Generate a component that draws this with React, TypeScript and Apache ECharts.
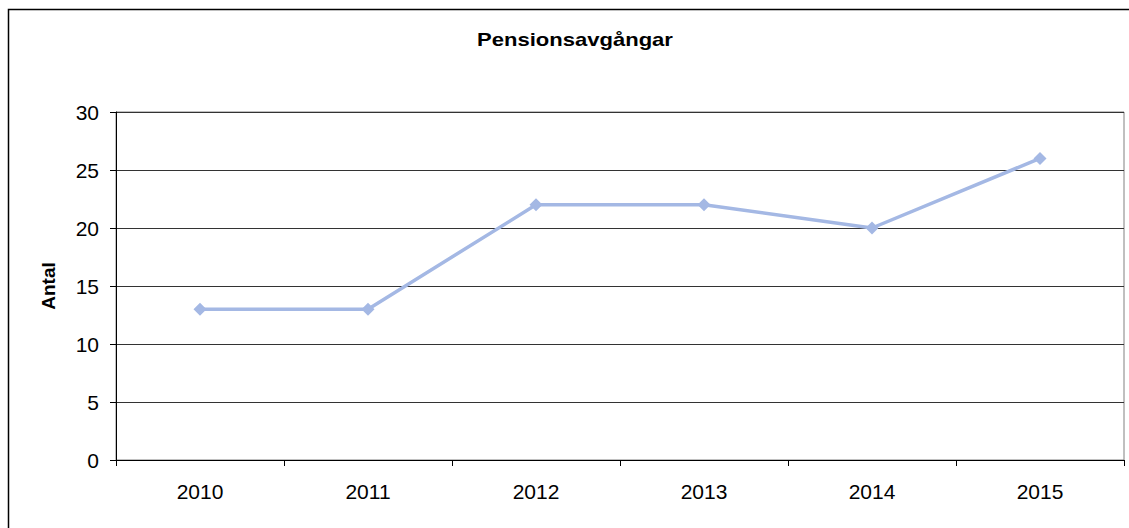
import React, { useEffect, useRef } from "react";
import * as echarts from "echarts";

const title = "Pensionsavgångar";
const yAxisName = "Antal";
const categories = ["2010", "2011", "2012", "2013", "2014", "2015"];
const values = [13, 13, 22, 22, 20, 26];

export default function App() {
  const ref = useRef<HTMLDivElement>(null);
  useEffect(() => {
    if (!ref.current) return;
    const chart = echarts.init(ref.current, null, { renderer: "svg" });
    const font = "Arial, 'Liberation Sans', sans-serif";
    chart.setOption({
      animation: false,
      backgroundColor: "#ffffff",
      graphic: [
        {
          type: "rect",
          shape: { x: 8.5, y: 9.5, width: 1200, height: 600 },
          style: { fill: "none", stroke: "#000", lineWidth: 1.5 },
          silent: true,
        },
        {
          type: "text",
          x: 575,
          y: 39,
          scaleX: 1.16,
          style: {
            text: title,
            fontFamily: font,
            fontSize: 19,
            fontWeight: "bold",
            fill: "#000",
            align: "center",
            verticalAlign: "middle",
          },
        },
      ],
      grid: {
        left: 116,
        top: 112,
        width: 1008,
        height: 348,
        show: true,
        borderColor: "#808080",
        borderWidth: 1,
        backgroundColor: "transparent",
      },
      xAxis: {
        type: "category",
        data: categories,
        boundaryGap: true,
        axisLine: { show: true, lineStyle: { color: "#000", width: 1 } },
        axisTick: { show: true, length: 6, interval: 0, lineStyle: { color: "#000" } },
        axisLabel: { margin: 21, fontFamily: font, fontSize: 21, color: "#000", interval: 0 },
        splitLine: { show: false },
      },
      yAxis: {
        type: "value",
        min: 0,
        max: 30,
        interval: 5,
        name: yAxisName,
        nameLocation: "middle",
        nameRotate: 90,
        nameGap: 58,
        nameTextStyle: { fontFamily: font, fontSize: 19, fontWeight: "bold", color: "#000" },
        axisLine: { show: true, lineStyle: { color: "#000", width: 1 } },
        axisTick: { show: true, length: 6, lineStyle: { color: "#000" } },
        axisLabel: { margin: 17, fontFamily: font, fontSize: 21, color: "#000" },
        splitLine: { show: true, lineStyle: { color: "#333", width: 1 } },
      },
      series: [
        {
          type: "line",
          data: values,
          symbol: "diamond",
          symbolSize: 13,
          lineStyle: { color: "#A4B8E4", width: 3.5 },
          itemStyle: { color: "#A4B8E4" },
        },
      ],
    });
    return () => chart.dispose();
  }, []);
  return (
    <div
      ref={ref}
      style={{ position: "absolute", left: 0, top: 0, width: 1129, height: 528 }}
    />
  );
}
